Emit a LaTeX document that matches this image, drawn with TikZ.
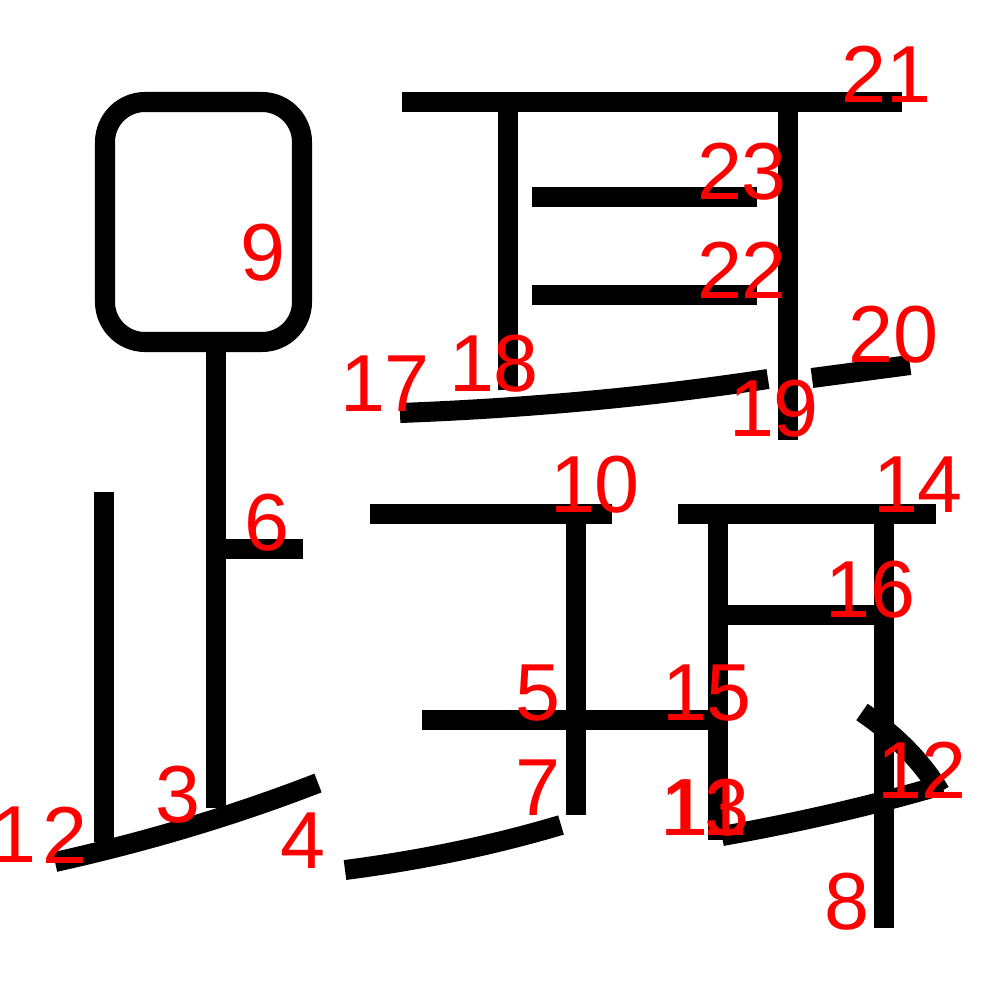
\documentclass[tikz,border=0pt]{standalone}
\usepackage{fontspec}
\setmainfont{Liberation Sans}
\begin{document}
\begin{tikzpicture}[x=0.01cm, y=-0.01cm,
        brush/.style={black, line width=2mm},
        numlbl/.style={red, font=\fontsize{23}{23}\selectfont, inner sep=0pt}]
    \useasboundingbox (0,0) rectangle (1000,1000);

    % ===== left radical =====
    \draw[brush, rounded corners=4mm] (105,102) rectangle (302,342);
    \draw[brush] (216,342) -- (216,808);
    \draw[brush] (216,549) -- (303,549);
    \draw[brush] (104,492) -- (104,842);
    \draw[brush] (55,862) .. controls (145,842) and (233,816) .. (318,783);

    % ===== upper right =====
    \draw[brush] (402,102) -- (902,102);
    \draw[brush] (508,102) -- (508,390);
    \draw[brush] (788,102) -- (788,440);
    \draw[brush] (532,197) -- (757,197);
    \draw[brush] (532,295) -- (757,295);
    \draw[brush] (400,413) .. controls (533,408) and (656,396) .. (768,379);
    \draw[brush] (812,378) -- (910,365);

    % ===== lower middle =====
    \draw[brush] (370,514) -- (612,514);
    \draw[brush] (576,514) -- (576,815);
    \draw[brush] (422,720) -- (718,720);
    \draw[brush] (345,870) .. controls (422,860) and (494,845) .. (561,825);

    % ===== lower right =====
    \draw[brush] (678,514) -- (936,514);
    \draw[brush] (718,514) -- (718,840);
    \draw[brush] (884,514) -- (884,928);
    \draw[brush] (718,615) -- (884,615);
    \draw[brush] (722,836) .. controls (801,822) and (874,805) .. (942,785);
    \draw[brush] (862,712) .. controls (897,736) and (923,763) .. (940,792);

    % stroke numbers
    \node[numlbl] (n1) at (14,835) {1};
    \node[numlbl] (n2) at (65,835) {2};
    \node[numlbl] (n3) at (178,795) {3};
    \node[numlbl] (n4) at (303,841) {4};
    \node[numlbl] (n5) at (538,693) {5};
    \node[numlbl] (n6) at (267,523) {6};
    \node[numlbl] (n7) at (538,788) {7};
    \node[numlbl] (n8) at (847,902) {8};
    \node[numlbl] (n9) at (263,253) {9};
    \node[numlbl] (n10) at (595,485) {10};
    \node[numlbl] (n11) at (705,808) {11};
    \node[numlbl] (n12) at (922,770) {12};
    \node[numlbl] (n13) at (705,808) {13};
    \node[numlbl] (n14) at (918,485) {14};
    \node[numlbl] (n15) at (707,693) {15};
    \node[numlbl] (n16) at (870,590) {16};
    \node[numlbl] (n17) at (385,384) {17};
    \node[numlbl] (n18) at (494,364) {18};
    \node[numlbl] (n19) at (774,409) {19};
    \node[numlbl] (n20) at (893,335) {20};
    \node[numlbl] (n21) at (886,74) {21};
    \node[numlbl] (n22) at (742,270) {22};
    \node[numlbl] (n23) at (742,172) {23};
\end{tikzpicture}
\end{document}
